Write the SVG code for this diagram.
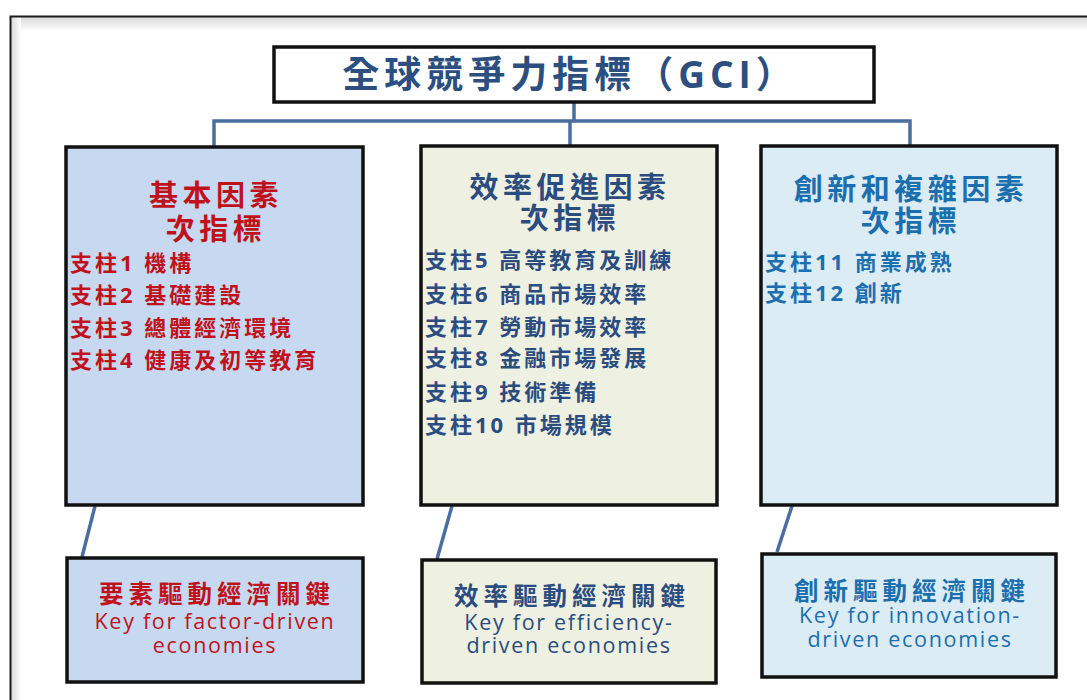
<svg xmlns="http://www.w3.org/2000/svg" width="1087" height="700" viewBox="0 0 1087 700">
<style>
.box{stroke:#111;stroke-width:3.5}
.f1{fill:#c6d9f0}
.f2{fill:#eef0e2}
.f3{fill:#dbecf4}
.cjk{font-family:"Open Sans","Noto Sans CJK TC","Noto Sans CJK SC",sans-serif;font-weight:bold}
.lat{font-family:"Open Sans","DejaVu Sans",sans-serif}
.red{fill:#c0121c}
.dk{fill:#2b4c7e}
.bl{fill:#1c6fae}
.h{font-size:29px;letter-spacing:4.5px;text-anchor:middle}
.it{font-size:22px;letter-spacing:3px}
.bh{font-size:24.5px;letter-spacing:5px;text-anchor:middle}
.en{font-size:21.5px;letter-spacing:1.7px;text-anchor:middle}
.con{fill:none;stroke:#4a6ea0;stroke-width:3.5}
</style>
<defs>
<linearGradient id="shT" x1="0" y1="0" x2="0" y2="1">
<stop offset="0" stop-color="#d8d8d8"/><stop offset="1" stop-color="#ffffff"/>
</linearGradient>
<linearGradient id="shL" x1="0" y1="0" x2="1" y2="0">
<stop offset="0" stop-color="#d8d8d8"/><stop offset="1" stop-color="#ffffff"/>
</linearGradient>
</defs>
<rect width="1087" height="700" fill="#ffffff"/>
<g id="frame">
<rect x="11" y="17" width="1076" height="14" fill="url(#shT)"/>
<rect x="11" y="17" width="10" height="683" fill="url(#shL)"/>
<path d="M10.5 700 V16.5 H1087" fill="none" stroke="#1a1a1a" stroke-width="2"/>
</g>
<g id="connectors">
<path class="con" d="M574 102 V120 M214 147 V121 H910 V145 M570 121 V145"/>
<path class="con" d="M95 506 L82 557"/>
<path class="con" d="M452 506 L437 559"/>
<path class="con" d="M792 506 L777 552"/>
</g>
<g id="title">
<rect x="274" y="47" width="600" height="55" fill="#ffffff" class="box"/>
<text x="570" y="88" class="cjk" font-size="37" letter-spacing="5" text-anchor="middle" fill="#2c4f7f">全球競爭力指標（GCI）</text>
</g>
<g id="basic">
<rect x="66" y="147" width="297" height="358" class="box f1"/>
<text x="216" y="206" class="cjk h red">基本因素</text>
<text x="216" y="240" class="cjk h red">次指標</text>
<text x="70" y="271" class="cjk it red">支柱1 機構</text>
<text x="70" y="303" class="cjk it red">支柱2 基礎建設</text>
<text x="70" y="336" class="cjk it red">支柱3 總體經濟環境</text>
<text x="70" y="368" class="cjk it red">支柱4 健康及初等教育</text>
</g>
<g id="efficiency">
<rect x="421" y="146" width="296" height="359" class="box f2"/>
<text x="570" y="198" class="cjk h dk">效率促進因素</text>
<text x="570" y="229" class="cjk h dk">次指標</text>
<text x="425" y="268" class="cjk it dk">支柱5 高等教育及訓練</text>
<text x="425" y="302" class="cjk it dk">支柱6 商品市場效率</text>
<text x="425" y="335" class="cjk it dk">支柱7 勞動市場效率</text>
<text x="425" y="366" class="cjk it dk">支柱8 金融市場發展</text>
<text x="425" y="400" class="cjk it dk">支柱9 技術準備</text>
<text x="425" y="433" class="cjk it dk">支柱10 市場規模</text>
</g>
<g id="innovation">
<rect x="761" y="146" width="296" height="359" class="box f3"/>
<text x="911" y="200" class="cjk h bl">創新和複雜因素</text>
<text x="911" y="232" class="cjk h bl">次指標</text>
<text x="765" y="270" class="cjk it bl">支柱11 商業成熟</text>
<text x="765" y="301" class="cjk it bl">支柱12 創新</text>
</g>
<g id="key-factor">
<rect x="67" y="558" width="296" height="124" class="box f1"/>
<text x="217" y="603" class="cjk bh red">要素驅動經濟關鍵</text>
<text x="215" y="629" class="lat en red">Key for factor-driven</text>
<text x="215" y="653" class="lat en red">economies</text>
</g>
<g id="key-efficiency">
<rect x="422" y="560" width="294" height="123" class="box f2"/>
<text x="572" y="605" class="cjk bh dk">效率驅動經濟關鍵</text>
<text x="569" y="630" class="lat en dk">Key for efficiency-</text>
<text x="569" y="653" class="lat en dk">driven economies</text>
</g>
<g id="key-innovation">
<rect x="762" y="554" width="294" height="123" class="box f3"/>
<text x="912" y="600" class="cjk bh bl">創新驅動經濟關鍵</text>
<text x="910" y="623" class="lat en bl">Key for innovation-</text>
<text x="910" y="647" class="lat en bl">driven economies</text>
</g>
</svg>
